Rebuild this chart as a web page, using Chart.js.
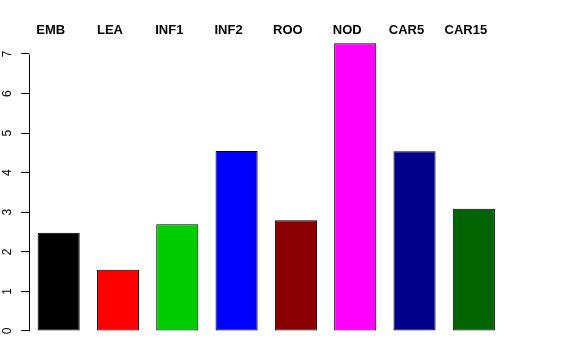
<!DOCTYPE html>
<html>
<head>
<meta charset="utf-8">
<script src="https://cdn.jsdelivr.net/npm/chart.js@4/dist/chart.umd.min.js"></script>
<style>
  html, body { margin: 0; padding: 0; background: #ffffff; }
  canvas { display: block; }
</style>
</head>
<body>
<canvas id="c" width="576" height="360"></canvas>
<script>
const categories = ["EMB", "LEA", "INF1", "INF2", "ROO", "NOD", "CAR5", "CAR15"];
const values = [2.48, 1.55, 2.70, 4.55, 2.80, 7.27, 4.54, 3.09];
const barColors = ["#000000", "#FF0000", "#00CD00", "#0000FF", "#8B0000", "#FF00FF", "#00008B", "#006400"];
const yTicks = [0, 1, 2, 3, 4, 5, 6, 7];

const axisLinePlugin = {
  id: 'axisLine',
  afterDraw(chart) {
    const y = chart.scales.y;
    const ctx = chart.ctx;
    const x = Math.round(y.right) + 0.5;
    ctx.save();
    ctx.strokeStyle = '#000000';
    ctx.lineWidth = 1;
    ctx.beginPath();
    ctx.moveTo(x, Math.round(y.getPixelForValue(yTicks[0])) + 0.5);
    ctx.lineTo(x, Math.round(y.getPixelForValue(yTicks[yTicks.length - 1])) + 0.5);
    ctx.stroke();
    ctx.restore();
  }
};

new Chart(document.getElementById('c'), {
  type: 'bar',
  data: {
    labels: categories,
    datasets: [{
      data: values,
      backgroundColor: barColors,
      borderColor: '#000000',
      borderWidth: 1,
      borderSkipped: false,
      barPercentage: 0.71,
      categoryPercentage: 1.0
    }]
  },
  options: {
    responsive: false,
    animation: false,
    devicePixelRatio: 1,
    layout: { padding: { top: 0, left: 0, right: 72.5, bottom: 18 } },
    plugins: { legend: { display: false }, tooltip: { enabled: false } },
    scales: {
      x: {
        position: 'top',
        offset: true,
        grid: { display: false, drawTicks: false },
        border: { display: false },
        ticks: {
          autoSkip: false,
          maxRotation: 0,
          minRotation: 0,
          padding: 0,
          labelOffset: -8,
          color: '#000000',
          font: { family: '"Liberation Sans", Arial, Helvetica, sans-serif', size: 13, weight: 'bold' }
        },
        afterFit(scale) { scale.height = 38; }
      },
      y: {
        position: 'left',
        min: -0.278,
        max: 7.404,
        afterBuildTicks(scale) { scale.ticks = yTicks.map(v => ({ value: v })); },
        grid: { display: true, drawOnChartArea: false, drawTicks: true, tickLength: 8, color: '#000000', lineWidth: 1 },
        border: { display: false },
        ticks: {
          minRotation: 90,
          maxRotation: 90,
          crossAlign: 'center',
          padding: 10,
          color: '#000000',
          font: { family: '"Liberation Sans", Arial, Helvetica, sans-serif', size: 12 }
        },
        afterFit(scale) { scale.width = 29; }
      }
    }
  },
  plugins: [axisLinePlugin]
});
</script>
</body>
</html>
